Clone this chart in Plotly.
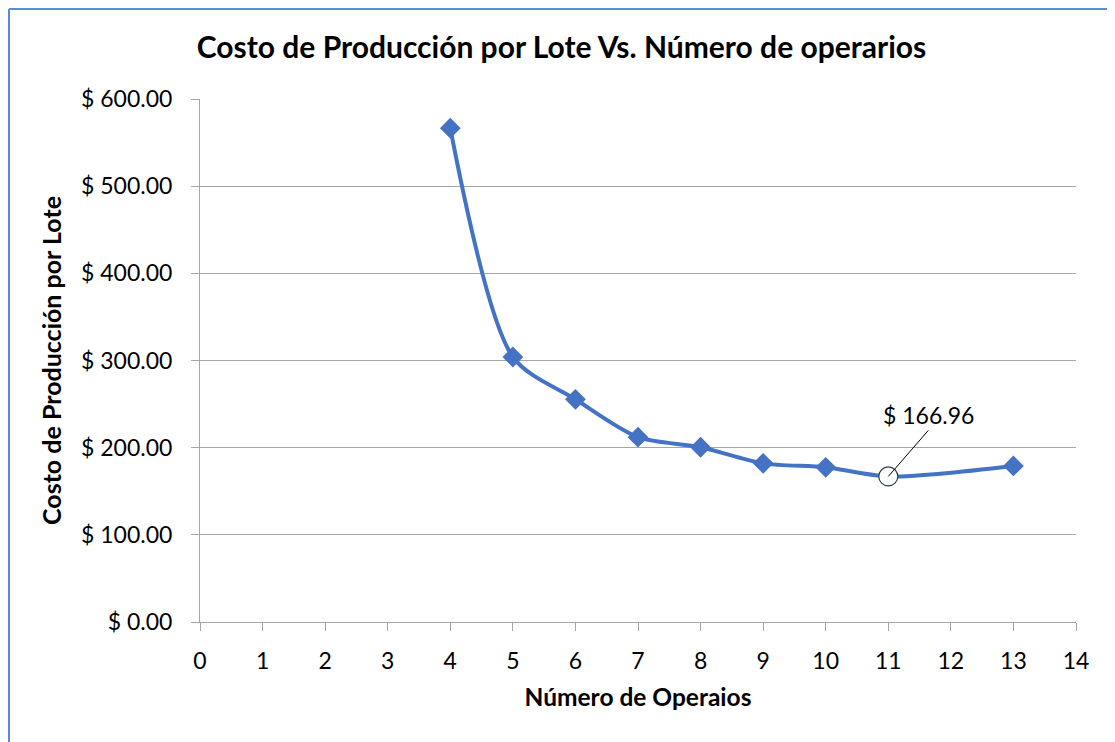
import plotly.graph_objects as go

operarios = [4, 5, 6, 7, 8, 9, 10, 11, 13]
costo = [566.5, 304.0, 255.5, 212.0, 200.5, 182.0, 177.5, 166.96, 179.0]
min_label = "$ 166.96"
title_text = "Costo de Producción por Lote Vs. Número de operarios"
x_title = "Número de Operaios"
y_title = "Costo de Producción por Lote"
x_ticks = list(range(0, 15))
y_ticks = [0, 100, 200, 300, 400, 500, 600]
y_ticktext = ["$ 0.00", "$ 100.00", "$ 200.00", "$ 300.00", "$ 400.00", "$ 500.00", "$ 600.00"]

BLUE = "#4472C4"
FONT = "Lato"

# page body has an 8px margin; figure placed at (8, 8)
OFF = 8
W, H = 1115 - OFF, 742 - OFF
PL, PR, PT, PB = 200, 1076, 99, 622  # plot area in window pixels

def px_x(x):
    return (x - PL) / (PR - PL)

def px_y(y):
    return (PB - y) / (PB - PT)

min_idx = costo.index(min(costo))
symbols = ["circle" if i == min_idx else "diamond" for i in range(len(costo))]
colors = ["white" if i == min_idx else BLUE for i in range(len(costo))]
sizes = [19 if i == min_idx else 16 for i in range(len(costo))]
lcolors = ["#2F3E55" if i == min_idx else BLUE for i in range(len(costo))]
lwidths = [1.2 if i == min_idx else 0 for i in range(len(costo))]

fig = go.Figure()
fig.add_trace(go.Scatter(
    x=operarios, y=costo, mode="lines+markers",
    line=dict(color=BLUE, width=4, shape="spline", smoothing=0.8),
    marker=dict(symbol=symbols, color=colors, size=sizes, opacity=1,
                line=dict(color=lcolors, width=lwidths)),
    showlegend=False, hoverinfo="x+y",
))

fig.add_annotation(
    x=operarios[min_idx], y=costo[min_idx], text=min_label,
    showarrow=True, arrowhead=0, arrowwidth=1, arrowcolor="black",
    ax=40, ay=-46, font=dict(family=FONT, size=23, color="black"),
    xanchor="center", yanchor="bottom", borderpad=0, standoff=0,
)

# outer chart border (top and left edges visible)
fig.add_shape(type="line", xref="paper", yref="paper",
              x0=px_x(9), x1=px_x(1130), y0=px_y(9), y1=px_y(9),
              line=dict(color="#5B8BD9", width=2))
fig.add_shape(type="line", xref="paper", yref="paper",
              x0=px_x(9), x1=px_x(9), y0=px_y(9), y1=px_y(760),
              line=dict(color="#5B8BD9", width=2))

fig.update_layout(
    width=W, height=H,
    margin=dict(l=PL - OFF, r=1115 - PR, t=PT - OFF, b=742 - PB),
    paper_bgcolor="white", plot_bgcolor="white",
    font=dict(family=FONT, color="black"),
    title=dict(text=title_text, x=0.5, xanchor="center", y=1 - (47 - OFF) / H, yanchor="middle",
               font=dict(family=FONT, size=30, color="black", weight="bold")),
    xaxis=dict(range=[0, 14], tickvals=x_ticks, ticks="outside", ticklen=8,
               tickcolor="#A6A6A6", showline=True, linecolor="#A6A6A6", linewidth=1,
               showgrid=False, zeroline=False, tickfont=dict(size=23),
               ticklabelstandoff=10,
               title=dict(text=x_title, font=dict(size=24.5, weight="bold"), standoff=16)),
    yaxis=dict(range=[0, 600], tickvals=y_ticks, ticktext=y_ticktext, ticks="outside",
               ticklen=8, tickcolor="#A6A6A6", showline=True, linecolor="#A6A6A6",
               linewidth=1, showgrid=True, gridcolor="#A6A6A6", gridwidth=1,
               zeroline=False, tickfont=dict(size=23), ticklabelstandoff=14,
               title=dict(text=y_title, font=dict(size=25, weight="bold"), standoff=12)),
)

fig.write_html("out.html")
